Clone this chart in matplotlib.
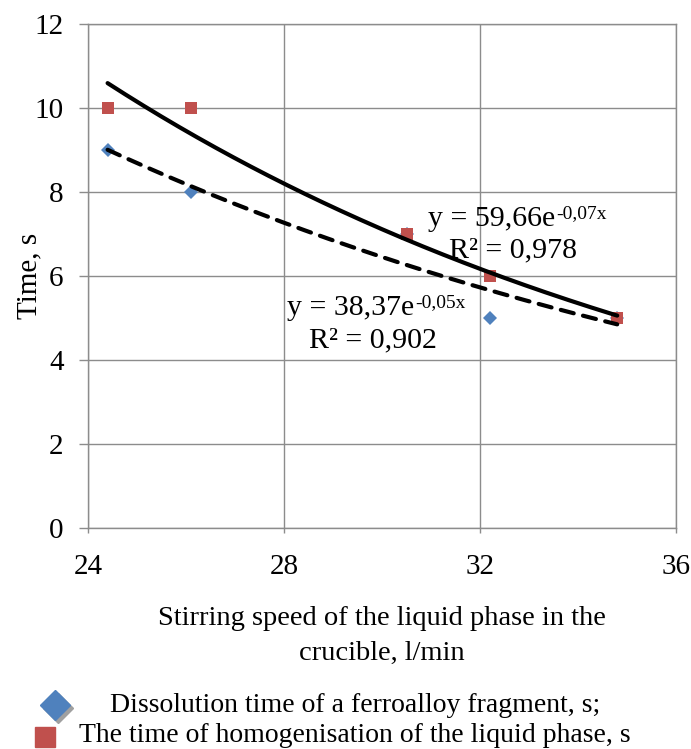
import numpy as np
import matplotlib
matplotlib.use("Agg")
import matplotlib.pyplot as plt
from matplotlib.lines import Line2D

plt.rcParams['font.family'] = ['Liberation Serif', 'DejaVu Serif']

speed = [24.4, 26.1, 30.5, 32.2, 34.8]
dissolution = [9, 8, 7, 5, 5]
homogenisation = [10, 10, 7, 6, 5]
x_ticks = [24, 28, 32, 36]
y_ticks = [0, 2, 4, 6, 8, 10, 12]

blue = '#4F81BD'
red = '#C0504D'
grid = '#8C8C8C'

fig = plt.figure(figsize=(6.91, 7.49), dpi=100)
ax = fig.add_axes([88/691, 1-528/749, 588/691, 504/749])

ax.plot(speed, dissolution, marker='D', ms=7.5, color=blue, ls='none', zorder=3, mew=0)
ax.plot(speed, homogenisation, marker='s', ms=8.8, color=red, ls='none', zorder=3, mew=0)

xs = np.linspace(min(speed), max(speed), 200)
b1, la1 = np.polyfit(speed, np.log(homogenisation), 1)
ax.plot(xs, np.exp(la1) * np.exp(b1 * xs), color='black', lw=3.0, ls='-', zorder=4,
        solid_capstyle='round')
b2, la2 = np.polyfit(speed, np.log(dissolution), 1)
ax.plot(xs, np.exp(la2) * np.exp(b2 * xs), color='black', lw=3.0, ls=(0, (3.2, 2.3)), zorder=4,
        dash_capstyle='round')

ax.set_xlim(24, 36)
ax.set_ylim(0, 12)
ax.set_xticks(x_ticks)
ax.set_yticks(y_ticks)
ax.tick_params(axis='y', labelsize=21, length=6.5, width=1, color=grid, pad=11)
ax.tick_params(axis='x', labelsize=21, length=3.5, width=1, color=grid, pad=15)
ax.grid(True, color=grid, lw=1)
ax.set_axisbelow(True)
for s in ax.spines.values():
    s.set_color(grid)
    s.set_linewidth(1)

ax.set_xlabel('Stirring speed of the liquid phase in the\ncrucible, l/min', fontsize=20.5,
              linespacing=1.5)
ax.xaxis.set_label_coords(0.5, -0.155)
ax.set_ylabel('Time, s', fontsize=21)
ax.yaxis.set_label_coords(-0.078, 0.5)

fig.canvas.draw()

def equation(x, y, main, sup):
    t = ax.text(x, y, main, fontsize=21.5, ha='left', va='baseline', zorder=5)
    ax.annotate(sup, xy=(1, 1), xycoords=t, xytext=(0.5, 0.5), textcoords='offset points',
                fontsize=14, ha='left', va='top', zorder=5)

equation(30.94, 7.19, 'y = 59,66e', '-0,07x')
ax.text(32.67, 6.45, 'R² = 0,978', fontsize=21.5, ha='center', va='baseline', zorder=5)
equation(28.06, 5.07, 'y = 38,37e', '-0,05x')
ax.text(29.82, 4.29, 'R² = 0,902', fontsize=21.5, ha='center', va='baseline', zorder=5)

# legend (manual)
fig.add_artist(Line2D([58/691], [1-708/749], marker='D', markersize=15, color='#A0A0A0', ls='none',
                      transform=fig.transFigure))
fig.add_artist(Line2D([55/691], [1-705/749], marker='D', markersize=15, color=blue, ls='none',
                      transform=fig.transFigure))
fig.add_artist(Line2D([45/691], [1-737/749], marker='s', markersize=14, color=red, ls='none',
                      transform=fig.transFigure))
fig.text(355/691, 1-705/749, 'Dissolution time of a ferroalloy fragment, s;', fontsize=20, ha='center', va='center')
fig.text(355/691, 1-735/749, 'The time of homogenisation of the liquid phase, s', fontsize=20, ha='center', va='center')

fig.savefig('out.png', dpi=100)
